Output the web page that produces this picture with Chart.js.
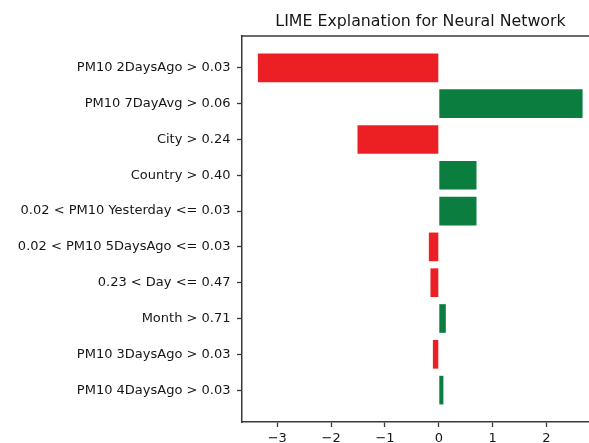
<!DOCTYPE html>
<html>
<head>
<meta charset="utf-8">
<script src="https://cdn.jsdelivr.net/npm/chart.js@4.4.1/dist/chart.umd.min.js"></script>
<style>
  html, body { margin: 0; padding: 0; background: #fff; overflow: hidden; }
  #wrap { width: 599px; height: 443px; }
</style>
</head>
<body>
<div id="wrap"><canvas id="chart" width="599" height="443"></canvas></div>
<script>
// Feature conditions, top to bottom
const features = [
  "PM10 2DaysAgo > 0.03",
  "PM10 7DayAvg > 0.06",
  "City > 0.24",
  "Country > 0.40",
  "0.02 < PM10 Yesterday <= 0.03",
  "0.02 < PM10 5DaysAgo <= 0.03",
  "0.23 < Day <= 0.47",
  "Month > 0.71",
  "PM10 3DaysAgo > 0.03",
  "PM10 4DaysAgo > 0.03"
];
// LIME weight of each feature
const weights = [-3.36, 2.67, -1.51, 0.70, 0.70, -0.185, -0.155, 0.13, -0.11, 0.085];
const xTicks = [-3, -2, -1, 0, 1, 2];

const RED = "#ec1f25";
const GREEN = "#0b7e3f";
const INK = "#161616";
const SPINE = "#3a3a3a";

// top frame line of the axes box
const topSpine = {
  id: "topSpine",
  afterDraw(chart) {
    const { ctx, chartArea } = chart;
    ctx.save();
    ctx.strokeStyle = SPINE;
    ctx.lineWidth = 1.5;
    ctx.beginPath();
    ctx.moveTo(chartArea.left, chartArea.top);
    ctx.lineTo(chartArea.right + 20, chartArea.top);
    ctx.stroke();
    ctx.restore();
  }
};

new Chart(document.getElementById("chart"), {
  type: "bar",
  data: {
    datasets: [{
      data: weights.map((v, i) => ({ x: v, y: i })),
      backgroundColor: weights.map(v => v < 0 ? RED : GREEN),
      borderWidth: 0,
      categoryPercentage: 1.0,
      barPercentage: 0.8
    }]
  },
  plugins: [topSpine],
  options: {
    indexAxis: "y",
    responsive: false,
    animation: false,
    devicePixelRatio: 1,
    layout: { padding: { left: 0, right: 0, top: 0, bottom: 0 } },
    plugins: {
      legend: { display: false },
      tooltip: { enabled: false },
      title: {
        display: true,
        text: "LIME Explanation for Neural Network",
        fullSize: false,
        color: INK,
        font: { family: "DejaVu Sans", size: 15.8, weight: "normal" },
        padding: { top: 12, bottom: 5 }
      }
    },
    scales: {
      x: {
        type: "linear",
        min: -3.655,
        max: 2.975,
        afterBuildTicks(scale) { scale.ticks = xTicks.map(v => ({ value: v })); },
        afterFit(scale) { scale.height = 21; },
        grid: { drawOnChartArea: false, drawTicks: true, tickLength: 5, tickColor: SPINE, tickWidth: 1.3 },
        border: { display: true, color: SPINE, width: 1.5 },
        ticks: {
          color: INK,
          padding: 4,
          font: { family: "DejaVu Sans", size: 13 },
          maxRotation: 0,
          callback: v => (v < 0 ? "\u2212" + Math.abs(v) : String(v))
        }
      },
      y: {
        type: "linear",
        reverse: true,
        offset: false,
        min: -0.89,
        max: 9.89,
        afterBuildTicks(scale) { scale.ticks = features.map((_, i) => ({ value: i })); },
        afterFit(scale) { scale.width = 242; },
        grid: { offset: false, drawOnChartArea: false, drawTicks: true, tickLength: 5, tickColor: SPINE, tickWidth: 1.3 },
        border: { display: true, color: SPINE, width: 1.5 },
        ticks: {
          color: INK,
          padding: 6.5,
          font: { family: "DejaVu Sans", size: 13 },
          callback: v => features[v]
        }
      }
    }
  }
});
</script>
</body>
</html>
